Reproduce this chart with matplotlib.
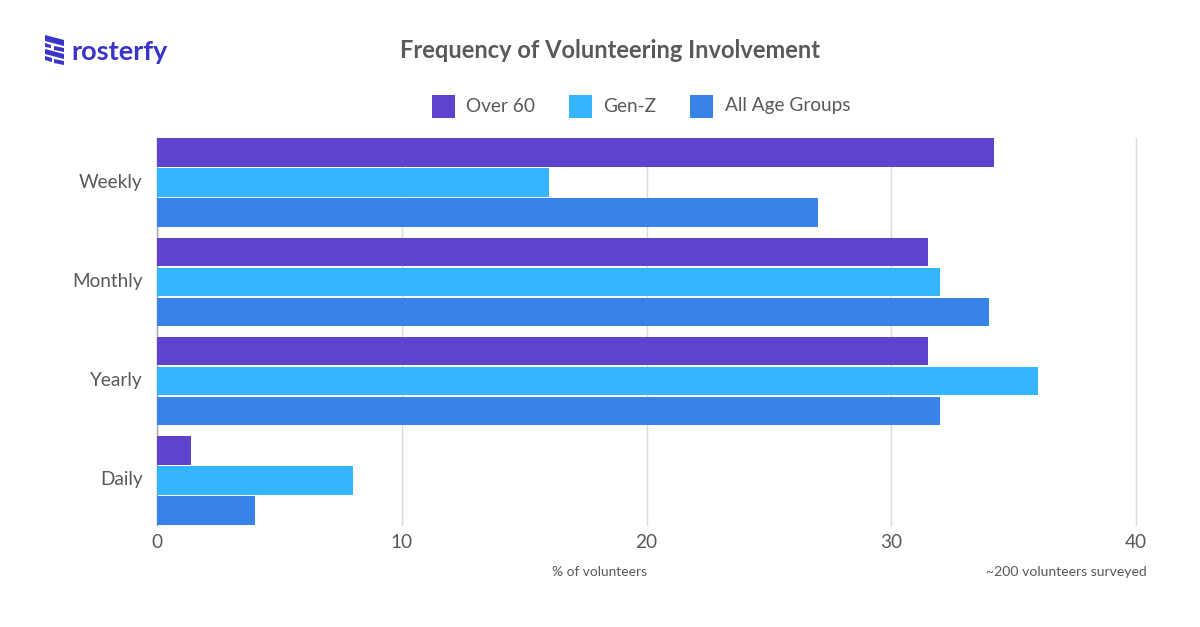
import matplotlib
matplotlib.use("Agg")
import matplotlib.pyplot as plt
from matplotlib.patches import Polygon, Rectangle
from matplotlib.legend_handler import HandlerPatch
from matplotlib.transforms import ScaledTranslation
import numpy as np

categories = ["Weekly", "Monthly", "Yearly", "Daily"]
over_60 = [34.2, 31.5, 31.5, 1.4]
gen_z = [16, 32, 36, 8]
all_ages = [27, 34, 32, 4]
series_names = ["Over 60", "Gen-Z", "All Age Groups"]
xticks = [0, 10, 20, 30, 40]

PURPLE = "#5F43CF"
CYAN = "#36B5FF"
BLUE = "#3783E8"
TEXT = "#595959"
W, H = 1200, 627
plt.rcParams["font.family"] = ["Lato", "DejaVu Sans"]

fig = plt.figure(figsize=(12, 6.27), dpi=100, facecolor="white")
ax = fig.add_axes([157 / W, 1 - 525 / H, (1136 - 157) / W, (525 - 138) / H])

y = np.arange(len(categories))
bar_h = 0.288
step = 0.302
for off, vals, col, name in zip([-step, 0, step], [over_60, gen_z, all_ages],
                                [PURPLE, CYAN, BLUE], series_names):
    ax.barh(y + off, vals, height=bar_h, color=col, label=name, zorder=3)

ax.set_xlim(0, 40)
ax.set_ylim(3.45, -0.45)
ax.set_yticks(y, categories)
ax.set_xticks(xticks, [str(v) for v in xticks])
ax.tick_params(axis="both", length=0, labelsize=13.7, labelcolor=TEXT)
ax.tick_params(axis="y", pad=10.5)
ax.tick_params(axis="x", pad=6.7)
for lab in ax.get_yticklabels():
    lab.set_transform(lab.get_transform() + ScaledTranslation(0, 2 / 100, fig.dpi_scale_trans))
ax.grid(axis="x", color="#DADADA", linewidth=1, zorder=0)
for gl in ax.get_xgridlines():
    gl.set_clip_on(False)
ax.set_axisbelow(True)
for s in ["top", "right", "bottom"]:
    ax.spines[s].set_visible(False)
ax.spines["left"].set_color("#A8A8A8")
ax.spines["left"].set_linewidth(1)

fig.text(610.5 / W, 1 - 50.5 / H, "Frequency of Volunteering Involvement", ha="center", va="center",
         fontsize=17.05, fontweight="bold", color=TEXT)
fig.text(600 / W, 1 - 572 / H, "% of volunteers", ha="center", va="center", fontsize=9.9, color=TEXT)
fig.text(1147 / W, 1 - 572 / H, "~200 volunteers surveyed", ha="right", va="center", fontsize=10.1, color=TEXT)


class SquareHandler(HandlerPatch):
    def create_artists(self, legend, orig, xd, yd, width, height, fontsize, trans):
        s = 16.5
        r = Rectangle((xd, yd + height / 2 - s / 2 - 1.5), s, s, facecolor=orig.get_facecolor(),
                      edgecolor="none", transform=trans)
        return [r]


handles = [Rectangle((0, 0), 1, 1, facecolor=c) for c in (PURPLE, CYAN, BLUE)]
fig.legend(handles, series_names, loc="center", bbox_to_anchor=(641 / W, 1 - 106 / H), ncol=3,
           frameon=False, fontsize=13.7, labelcolor=TEXT, handlelength=1.2, handletextpad=0.59,
           columnspacing=1.795, borderpad=0,
           handler_map={Rectangle: SquareHandler()})

# logo
LOGO = "#3A35C8"
fig.text(71 / W, 1 - 52 / H, "rosterfy", ha="left", va="center", fontsize=19.5, fontweight="bold", color=LOGO)


def px(pts):
    return [(a / W, 1 - b / H) for a, b in pts]


stripes = [
    [(45, 35), (64, 40), (64, 46), (45, 41)],
    [(45, 43), (51, 45), (51, 48), (45, 47)],
    [(54, 46), (64, 48), (64, 52), (54, 50)],
    [(45, 49), (64, 54), (64, 59), (45, 54)],
    [(45, 56), (52, 58), (52, 62), (45, 60)],
    [(54, 59), (64, 61), (64, 65), (54, 63)],
]
for s in stripes:
    fig.add_artist(Polygon(px(s), closed=True, transform=fig.transFigure, facecolor=LOGO, edgecolor="none"))

fig.savefig("out.png", dpi=100)
